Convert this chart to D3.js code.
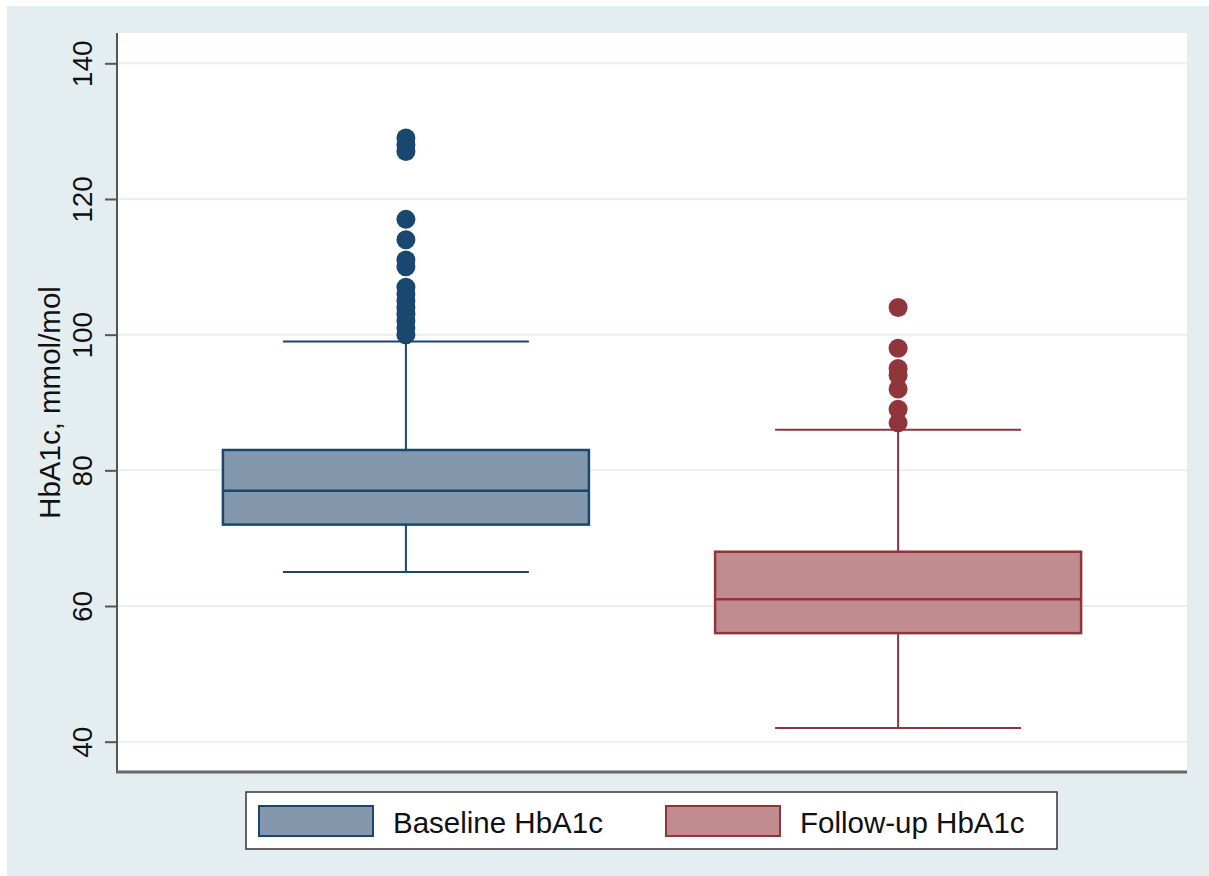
<!DOCTYPE html>
<html>
<head>
<meta charset="utf-8">
<script src="https://cdn.jsdelivr.net/npm/d3@7"></script>
<style>
  html, body { margin: 0; padding: 0; background: #ffffff; }
  svg { display: block; }
  text { font-family: "Liberation Sans", Arial, Helvetica, sans-serif; fill: #111; }
</style>
</head>
<body>
<svg id="chart" width="1209" height="876"></svg>
<script>
// ---- data ----
const categories = ["Baseline HbA1c", "Follow-up HbA1c"];
const q1Values = [72, 56];
const medianValues = [77, 61];
const q3Values = [83, 68];
const whiskerLow = [65, 42];
const whiskerHigh = [99, 86];
const outliersBaseline = [100, 101, 102, 103, 104, 105, 106, 107, 110, 111, 114, 117, 127, 128, 129];
const outliersFollowUp = [87, 89, 92, 94, 95, 98, 104];
const yTicks = [40, 60, 80, 100, 120, 140];
const yTitle = "HbA1c, mmol/mol";

const fills = ["#8398ad", "#c08c8f"];
const strokes = ["#1a476f", "#90353b"];

// ---- layout ----
const W = 1209, H = 876;
const plot = { left: 117, right: 1187, top: 33, bottom: 772 };

const svg = d3.select("#chart");

// outer background
svg.append("rect").attr("x", 7).attr("y", 6).attr("width", W - 7).attr("height", H - 6)
  .attr("fill", "#e4eef0");
// plot region
svg.append("rect").attr("x", plot.left).attr("y", plot.top)
  .attr("width", plot.right - plot.left).attr("height", plot.bottom - plot.top)
  .attr("fill", "#ffffff");

const y = d3.scaleLinear().domain([35.53, 144.47]).range([plot.bottom, plot.top]);
const x = d3.scalePoint().domain(categories).range([plot.left, plot.right]).padding(0.587);

// gridlines
svg.append("g").selectAll("line").data(yTicks).join("line")
  .attr("x1", plot.left).attr("x2", plot.right)
  .attr("y1", d => y(d)).attr("y2", d => y(d))
  .attr("stroke", "#e6eff1").attr("stroke-width", 2);

// y axis
const yAxis = svg.append("g").attr("transform", `translate(${plot.left},0)`)
  .call(d3.axisLeft(y).tickValues(yTicks).tickSize(12).tickPadding(0).tickFormat(d3.format("d")));
yAxis.select(".domain").remove();
yAxis.selectAll(".tick line").attr("stroke", "#555").attr("stroke-width", 2);
yAxis.selectAll(".tick text")
  .attr("x", 0).attr("y", 0).attr("dy", 0)
  .attr("transform", "translate(-25,0) rotate(-90)")
  .attr("text-anchor", "middle")
  .style("font-family", "'Liberation Sans', Arial, sans-serif")
  .style("font-size", "28px").attr("fill", "#111");

// axis lines
svg.append("line").attr("x1", plot.left).attr("x2", plot.left)
  .attr("y1", plot.top).attr("y2", plot.bottom + 1)
  .attr("stroke", "#555").attr("stroke-width", 2);
svg.append("line").attr("x1", plot.left - 1).attr("x2", plot.right)
  .attr("y1", plot.bottom).attr("y2", plot.bottom)
  .attr("stroke", "#666").attr("stroke-width", 3);

// y title
svg.append("text")
  .attr("transform", `translate(60,${(y(40) + y(140)) / 2}) rotate(-90)`)
  .attr("text-anchor", "middle")
  .style("font-size", "29.5px")
  .text(yTitle);

// boxes
const boxW = 366, capW = 246;
const outliers = [outliersBaseline, outliersFollowUp];

categories.forEach((c, i) => {
  const cx = x(c);
  const g = svg.append("g");
  // whiskers
  g.append("line").attr("x1", cx).attr("x2", cx)
    .attr("y1", y(q3Values[i])).attr("y2", y(whiskerHigh[i]))
    .attr("stroke", strokes[i]).attr("stroke-width", 2);
  g.append("line").attr("x1", cx).attr("x2", cx)
    .attr("y1", y(q1Values[i])).attr("y2", y(whiskerLow[i]))
    .attr("stroke", strokes[i]).attr("stroke-width", 2);
  // caps
  [whiskerHigh[i], whiskerLow[i]].forEach(v => {
    g.append("line").attr("x1", cx - capW / 2).attr("x2", cx + capW / 2)
      .attr("y1", y(v)).attr("y2", y(v))
      .attr("stroke", strokes[i]).attr("stroke-width", 2);
  });
  // box
  g.append("rect").attr("x", cx - boxW / 2).attr("width", boxW)
    .attr("y", y(q3Values[i])).attr("height", y(q1Values[i]) - y(q3Values[i]))
    .attr("fill", fills[i]).attr("stroke", strokes[i]).attr("stroke-width", 2.5);
  // median
  g.append("line").attr("x1", cx - boxW / 2).attr("x2", cx + boxW / 2)
    .attr("y1", y(medianValues[i])).attr("y2", y(medianValues[i]))
    .attr("stroke", strokes[i]).attr("stroke-width", 2.5);
  // outliers
  g.selectAll("circle.o").data(outliers[i]).join("circle")
    .attr("class", "o")
    .attr("cx", cx).attr("cy", d => y(d)).attr("r", 9.5)
    .attr("fill", strokes[i]);
});

// legend
const lg = svg.append("g");
lg.append("rect").attr("x", 246).attr("y", 792).attr("width", 811).attr("height", 57)
  .attr("fill", "#ffffff").attr("stroke", "#333").attr("stroke-width", 1.5);
const legendX = [259, 666];
categories.forEach((c, i) => {
  lg.append("rect").attr("x", legendX[i]).attr("y", 806).attr("width", 114).attr("height", 30)
    .attr("fill", fills[i]).attr("stroke", strokes[i]).attr("stroke-width", 2);
  lg.append("text").attr("x", legendX[i] + 134).attr("y", 833)
    .style("font-size", "29.5px").text(c);
});
</script>
</body>
</html>
